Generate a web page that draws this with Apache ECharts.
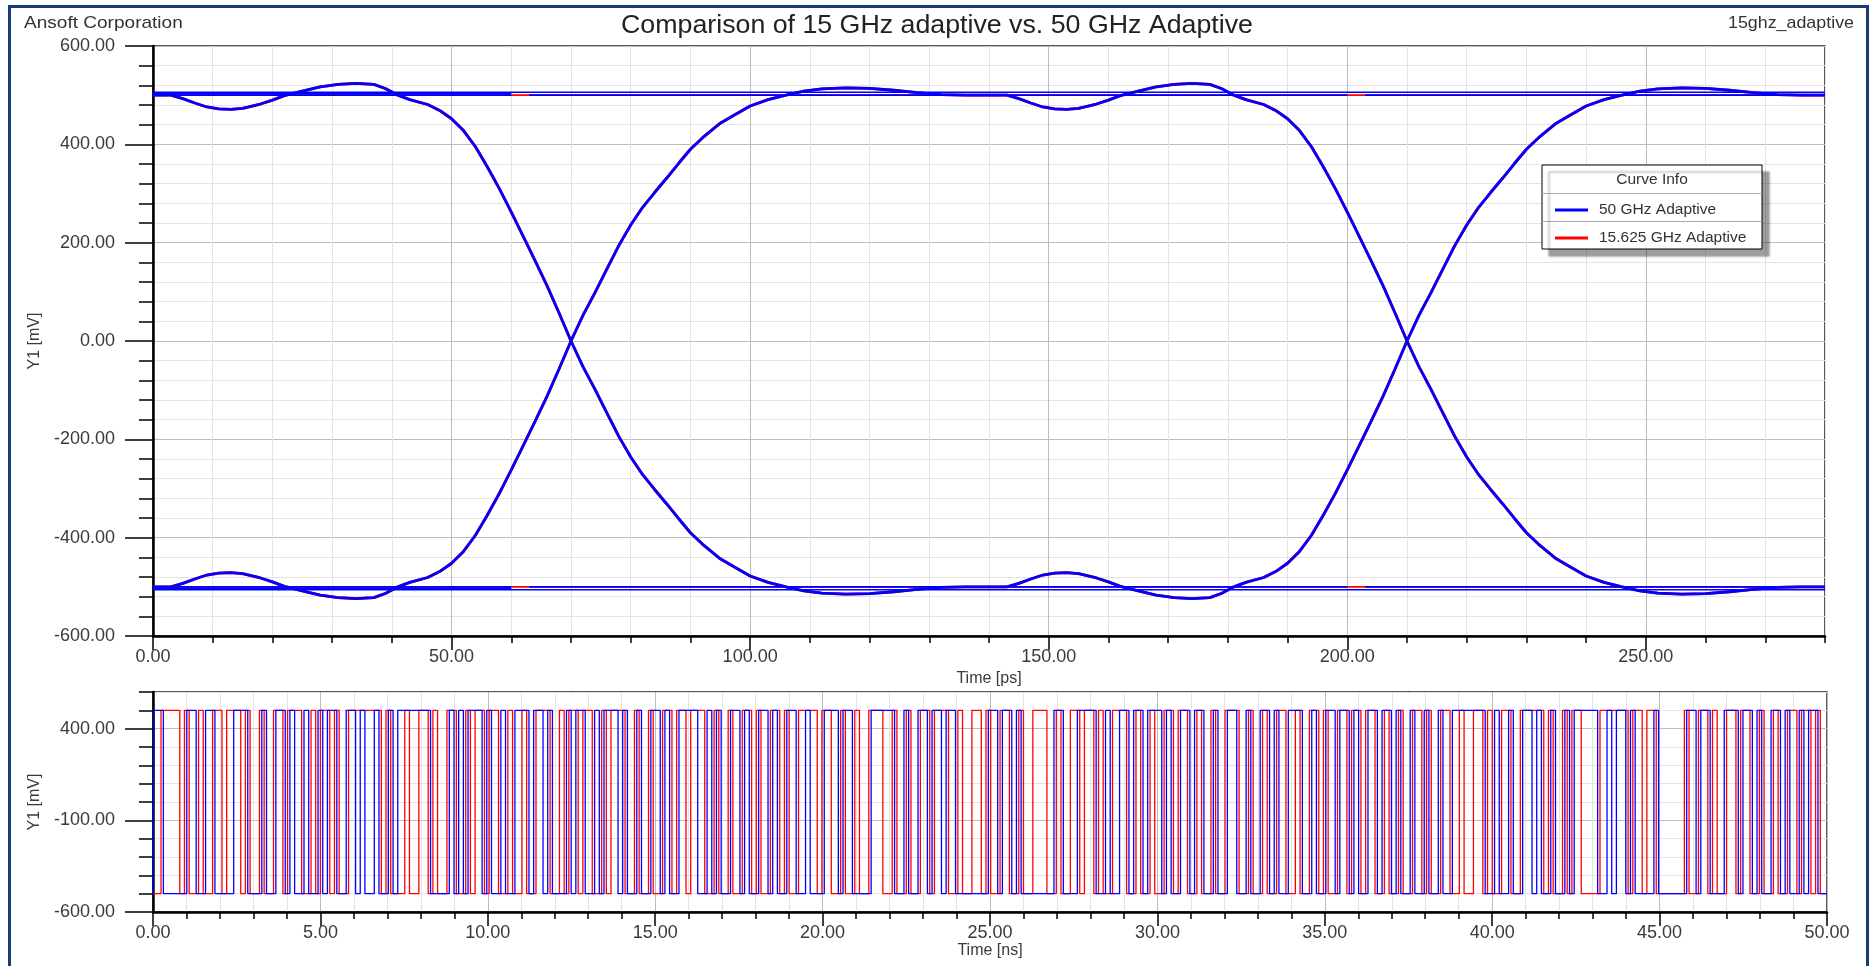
<!DOCTYPE html>
<html><head><meta charset="utf-8">
<script src="https://cdn.jsdelivr.net/npm/echarts@6/dist/echarts.min.js"></script>
<style>html,body{margin:0;padding:0;background:#fff}#c{width:1873px;height:966px}</style>
</head><body><div id="c"></div>
<script>
// ===== Eye diagram (top plot): time in ps, voltage in mV =====
const eyeTimeA = [0,3,5,7,9,11,13,15,18,20,22,25,28,31,34,37,39,41,43,46,48,50,52,54,56,58,60,62,64,66,68,70,72,74,76,78,80,82,84,86,88,90,92,95,97,100,103,106,109,112,116,120,124,128,132,136,140];
const eyeTimeB = [140,143,145,147,149,151,153,155,158,160,162,165,168,171,174,177,179,181,183,186,188,190,192,194,196,198,200,202,204,206,208,210,212,214,216,218,220,222,224,226,228,230,232,235,237,240,243,246,249,252,256,260,264,268,272,276,280];
const eyeFall = [500,500,493,484,476,472,471,473,482,490,499,508,517,522,524,522,513,500,491,481,469,452,428,395,354,310,262,213,163,112,57,0,-52,-98,-146,-194,-236,-272,-302,-331,-361,-390,-413,-443,-457,-478,-491,-500,-508,-513,-515,-514,-510,-505,-501,-500,-500];
const eyeRise = [-500,-500,-493,-484,-476,-472,-471,-473,-482,-490,-499,-508,-517,-522,-524,-522,-513,-500,-491,-481,-469,-452,-428,-395,-354,-310,-262,-213,-163,-112,-57,0,52,98,146,194,236,272,302,331,361,390,413,443,457,478,491,500,508,513,515,514,510,505,501,500,500];
// flat (long-run) levels, [t ps, mV] segments
const blueFlat = [
  [[0,500],[60,500]], [[63,500],[200,500]], [[203,500],[280,500]], [[0,506],[280,506]], [[0,503],[60,503]],
  [[0,-500],[60,-500]], [[63,-500],[200,-500]], [[203,-500],[280,-500]], [[0,-506],[280,-506]], [[0,-503],[60,-503]]
];
const redFlat = [ [[0,500],[280,500]], [[0,-500],[280,-500]] ];

// ===== Bit stream (bottom plot) =====
const bitPeriodNs = 0.14;          // one UI (eye width 280 ps = 2 UI)
const levelMv = 500;
const blueOffsetNs = 0.03, redOffsetNs = 0.10;
// bit indices at which each waveform toggles (starting low)
const blueToggleBits = [0,2,7,9,11,13,17,20,23,24,26,28,29,30,32,33,35,36,37,39,41,43,44,45,47,48,50,51,52,59,63,64,65,66,67,70,71,72,
  74,75,77,80,81,83,84,85,88,89,90,92,94,95,96,99,100,101,103,104,106,108,109,110,112,116,118,119,120,121,123,125,126,127,129,131,132,133,135,
  137,139,140,143,146,147,149,153,158,160,161,163,165,166,168,169,171,178,180,181,183,184,185,192,194,197,201,203,204,206,208,209,211,212,215,216,217,219,
  221,222,224,226,227,229,231,233,234,236,238,239,240,242,245,247,248,250,252,253,255,256,257,259,261,262,264,265,266,
  268,269,271,272,274,275,277,284,286,287,289,290,292,294,295,296,298,299,301,302,303,308,310,311,312,314,315,316,320,321,327,329,330,332,335,338,339,341,342,343,345,347,348,349,351,352,353,355];
const redToggleBits = [1,5,6,7,9,10,12,14,15,18,19,20,22,23,25,27,28,31,33,34,35,37,38,39,41,48,49,50,53,54,56,58,59,60,62,64,66,67,68,70,71,73,75,76,78,79,81,84,86,87,88,90,91,93,95,96,97,100,
  102,103,105,106,108,110,111,113,114,117,119,120,122,123,125,127,128,129,131,133,134,135,137,141,142,144,146,147,149,150,152,155,157,158,160,161,163,165,166,169,171,172,174,176,177,178,180,182,184,185,187,190,
  192,193,195,197,198,200,201,202,204,207,209,210,212,213,215,217,218,220,222,223,225,226,228,231,233,234,236,237,239,241,243,244,246,248,249,250,252,254,255,257,258,260,262,263,265,266,268,270,271,272,274,276,278,279,
  281,283,284,285,287,289,291,296,297,298,300,301,302,304,308,314,315,317,318,320,326,327,329,331,332,333,335,337,338,340,342,343,345,346,348,350,351,353,354,355];
const streamEndNs = 50;

// ===== Axis ticks =====
const eyeXLabels = [0,50,100,150,200,250];
const streamYLabels = [-600,-100,400];

const BLUE = '#0000ff', RED = '#ff0000';
const FONT = 'Liberation Sans, Arial, sans-serif';
const zip = (t, v) => t.map((x, i) => [x, v[i]]);
function stepData(offset, toggles) {
  let lv = -levelMv;
  const d = [[0, lv]];
  toggles.forEach(k => { lv = -lv; d.push([+(offset + k * bitPeriodNs).toFixed(3), lv]); });
  d.push([streamEndNs, lv]);
  return d;
}

const series = [];
function eyeLine(name, color, data, width) {
  series.push({ name, type: 'line', xAxisIndex: 0, yAxisIndex: 0, data, showSymbol: false, symbol: 'none',
    lineStyle: { color, width }, itemStyle: { color }, silent: true, animation: false, z: color === BLUE ? 3 : 2 });
}
const edgeSets = [[eyeTimeA, eyeFall], [eyeTimeA, eyeRise], [eyeTimeB, eyeFall], [eyeTimeB, eyeRise]];
redFlat.forEach(s => eyeLine('15.625 GHz Adaptive', RED, s, 1.6));
edgeSets.forEach(([t, v]) => eyeLine('15.625 GHz Adaptive', RED, zip(t, v), 2.8));
blueFlat.forEach(s => eyeLine('50 GHz Adaptive', BLUE, s, 1.6));
edgeSets.forEach(([t, v]) => eyeLine('50 GHz Adaptive', BLUE, zip(t, v), 2.8));

series.push({ name: '15.625 GHz Adaptive', type: 'line', xAxisIndex: 2, yAxisIndex: 2, step: 'end', showSymbol: false, symbol: 'none',
  data: stepData(redOffsetNs, redToggleBits), lineStyle: { color: RED, width: 1.3 }, itemStyle: { color: RED }, animation: false, silent: true, z: 2 });
series.push({ name: '50 GHz Adaptive', type: 'line', xAxisIndex: 2, yAxisIndex: 2, step: 'end', showSymbol: false, symbol: 'none',
  data: stepData(blueOffsetNs, blueToggleBits), lineStyle: { color: BLUE, width: 1.3 }, itemStyle: { color: BLUE }, animation: false, silent: true, z: 3 });

const labelStyle = { fontFamily: FONT, fontSize: 18, color: '#3a3a3a' };
const nameStyle = { fontFamily: FONT, fontSize: 16, color: '#3a3a3a' };
const minorGrid = { color: '#e3e3e3', width: 1 };
const majorGrid = { color: '#bcbcbc', width: 1 };
const fmt2 = v => Number(v).toFixed(2);

const option = {
  animation: false,
  backgroundColor: '#fff',
  textStyle: { fontFamily: FONT },
  grid: [
    { left: 153, top: 46, width: 1672, height: 590, show: true, borderColor: '#222', borderWidth: 1.5, backgroundColor: '#fff' },
    { left: 153, top: 692, width: 1674, height: 220, show: true, borderColor: '#222', borderWidth: 1.5, backgroundColor: '#fff' }
  ],
  xAxis: [
    { gridIndex: 0, type: 'value', min: 0, max: 280, interval: 10, position: 'bottom',
      axisLine: { show: false, onZero: false }, axisTick: { show: true, length: 7, lineStyle: { color: '#000', width: 1.5 } },
      axisLabel: { show: false }, splitLine: { show: true, lineStyle: minorGrid } },
    { gridIndex: 0, type: 'value', min: 0, max: 280, interval: 50, position: 'bottom',
      axisLine: { show: true, onZero: false, lineStyle: { color: '#000', width: 2.5 } },
      axisTick: { show: true, length: 14, customValues: eyeXLabels, lineStyle: { color: '#000', width: 1.5 } },
      axisLabel: { show: true, customValues: eyeXLabels, formatter: fmt2, margin: 12, ...labelStyle },
      splitLine: { show: true, lineStyle: majorGrid },
      name: 'Time [ps]', nameLocation: 'middle', nameGap: 32, nameTextStyle: nameStyle },
    { gridIndex: 1, type: 'value', min: 0, max: 50, interval: 5, position: 'bottom',
      axisLine: { show: true, onZero: false, lineStyle: { color: '#000', width: 2.5 } },
      axisTick: { show: true, length: 14, lineStyle: { color: '#000', width: 1.5 } },
      minorTick: { show: true, splitNumber: 5, length: 7, lineStyle: { color: '#000', width: 1.5 } },
      axisLabel: { show: true, formatter: fmt2, margin: 12, ...labelStyle },
      splitLine: { show: true, lineStyle: majorGrid }, minorSplitLine: { show: true, lineStyle: minorGrid },
      name: 'Time [ns]', nameLocation: 'middle', nameGap: 30, nameTextStyle: nameStyle }
  ],
  yAxis: [
    { gridIndex: 0, type: 'value', min: -600, max: 600, interval: 200, position: 'left',
      axisLine: { show: true, onZero: false, lineStyle: { color: '#000', width: 2.5 } },
      axisTick: { show: true, length: 28, lineStyle: { color: '#000', width: 1.5 } },
      minorTick: { show: true, splitNumber: 5, length: 14, lineStyle: { color: '#000', width: 1.5 } },
      axisLabel: { show: true, formatter: fmt2, margin: 38, ...labelStyle },
      splitLine: { show: true, lineStyle: majorGrid }, minorSplitLine: { show: true, lineStyle: minorGrid },
      name: 'Y1 [mV]', nameLocation: 'middle', nameGap: 105, nameRotate: 90, nameTextStyle: nameStyle },
    { gridIndex: 1, type: 'value', min: -600, max: 600, interval: 100, position: 'left',
      axisLine: { show: false, onZero: false }, axisTick: { show: true, length: 14, lineStyle: { color: '#000', width: 1.5 } },
      axisLabel: { show: false }, splitLine: { show: true, lineStyle: minorGrid } },
    { gridIndex: 1, type: 'value', min: -600, max: 600, interval: 500, position: 'left',
      axisLine: { show: true, onZero: false, lineStyle: { color: '#000', width: 2.5 } },
      axisTick: { show: true, length: 28, customValues: streamYLabels, lineStyle: { color: '#000', width: 1.5 } },
      axisLabel: { show: true, customValues: streamYLabels, formatter: fmt2, margin: 38, ...labelStyle },
      splitLine: { show: true, lineStyle: majorGrid },
      name: 'Y1 [mV]', nameLocation: 'middle', nameGap: 105, nameRotate: 90, nameTextStyle: nameStyle }
  ],
  legend: {
    data: ['50 GHz Adaptive', '15.625 GHz Adaptive'], orient: 'vertical', left: 1550, top: 197,
    itemWidth: 33, itemHeight: 3, itemGap: 12, icon: 'rect', selectedMode: false, z: 30,
    textStyle: { fontFamily: FONT, fontSize: 15.5, color: '#333', lineHeight: 16, padding: [0, 0, 0, 6] }
  },
  graphic: [
    { type: 'rect', z: 100, silent: true, shape: { x: 9.5, y: 6.5, width: 1858, height: 1000 },
      style: { fill: 'none', stroke: '#1c3b73', lineWidth: 3 } },
    { type: 'text', x: 24, y: 23, z: 100, scaleX: 1.12, style: { text: 'Ansoft Corporation', font: '17px ' + FONT, fill: '#333', align: 'left', verticalAlign: 'middle' } },
    { type: 'text', x: 937, y: 26, z: 100, scaleX: 1.07, style: { text: 'Comparison of 15 GHz adaptive vs. 50 GHz Adaptive', font: '25px ' + FONT, fill: '#222', align: 'center', verticalAlign: 'middle' } },
    { type: 'text', x: 1854, y: 23, z: 100, scaleX: 1.05, style: { text: '15ghz_adaptive', font: '17px ' + FONT, fill: '#333', align: 'right', verticalAlign: 'middle' } },
    { type: 'rect', z: 25, silent: true, shape: { x: 1542, y: 165, width: 220, height: 84 },
      style: { fill: '#fff', stroke: '#000', lineWidth: 1, shadowBlur: 2, shadowOffsetX: 7, shadowOffsetY: 7, shadowColor: 'rgba(0,0,0,0.38)' } },
    { type: 'line', z: 26, silent: true, shape: { x1: 1542, y1: 193.5, x2: 1762, y2: 193.5 }, style: { stroke: '#a8a8a8', lineWidth: 1 } },
    { type: 'line', z: 26, silent: true, shape: { x1: 1542, y1: 221.5, x2: 1762, y2: 221.5 }, style: { stroke: '#a8a8a8', lineWidth: 1 } },
    { type: 'text', x: 1652, y: 180, z: 27, style: { text: 'Curve Info', font: '15.5px ' + FONT, fill: '#333', align: 'center', verticalAlign: 'middle' } }
  ],
  series
};
const chart = echarts.init(document.getElementById('c'), null, { renderer: 'canvas' });
chart.setOption(option);
</script></body></html>
